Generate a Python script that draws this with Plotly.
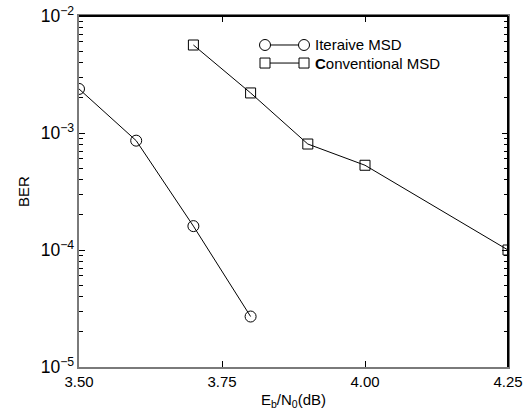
import plotly.graph_objects as go

ebn0_iter = [3.5, 3.6, 3.7, 3.8]
ber_iter = [2.38e-3, 8.6e-4, 1.6e-4, 2.7e-5]
ebn0_conv = [3.7, 3.8, 3.9, 4.0, 4.25]
ber_conv = [5.65e-3, 2.2e-3, 8.05e-4, 5.3e-4, 1.0e-4]

x_ticks = [3.5, 3.75, 4.0, 4.25]
x_labels = ["3.50", "3.75", "4.00", "4.25"]
legend_names = ["Iteraive MSD", "<b>C</b>onventional MSD"]

fig = go.Figure()
fig.add_trace(go.Scatter(x=ebn0_iter, y=ber_iter, mode="lines+markers", name=legend_names[0],
                         line=dict(color="black", width=1), showlegend=False,
                         marker=dict(symbol="circle-open", size=11, color="black", line=dict(width=1))))
fig.add_trace(go.Scatter(x=ebn0_conv, y=ber_conv, mode="lines+markers", name=legend_names[1],
                         line=dict(color="black", width=1), showlegend=False,
                         marker=dict(symbol="square-open", size=10, color="black", line=dict(width=1))))

# manual legend (paper coordinates)
x0, x1, xt = 0.4336, 0.5245, 0.5455
rows = [0.9174, 0.866]
shapes = []
for i, yr in enumerate(rows):
    shapes.append(dict(type="line", xref="paper", yref="paper", x0=x0, x1=x1, y0=yr, y1=yr,
                       line=dict(color="black", width=1)))
    for xc in (x0, x1):
        s = 5.5 if i == 0 else 5
        shapes.append(dict(type="circle" if i == 0 else "rect", xref="paper", yref="paper",
                           xsizemode="pixel", ysizemode="pixel", xanchor=xc, yanchor=yr,
                           x0=-s, x1=s, y0=-s, y1=s,
                           line=dict(color="black", width=1), fillcolor="white"))
# black top/right frame lines
shapes.append(dict(type="line", xref="paper", yref="paper", x0=0, x1=1, y0=1, y1=1,
                   line=dict(color="black", width=2)))
shapes.append(dict(type="line", xref="paper", yref="paper", x0=1, x1=1, y0=0, y1=1,
                   line=dict(color="black", width=2)))
annotations = [dict(text=legend_names[i], xref="paper", yref="paper", x=xt, y=yr,
                    xanchor="left", yanchor="middle", showarrow=False,
                    font=dict(size=15, color="black"))
               for i, yr in enumerate(rows)]

axis_common = dict(showline=True, linecolor="#7a7a7a", linewidth=2, mirror="ticks",
                   ticks="inside", tickcolor="black", showgrid=False, zeroline=False,
                   automargin=False)

fig.update_layout(
    width=526, height=413,
    margin=dict(l=79, r=18, t=16, b=46),
    paper_bgcolor="white", plot_bgcolor="white",
    font=dict(family="Liberation Sans, Arial", size=15, color="black"),
    showlegend=False,
    shapes=shapes, annotations=annotations,
    xaxis=dict(range=[3.5, 4.25], tickvals=x_ticks, ticktext=x_labels, ticklen=6,
               tickfont=dict(size=15, color="black"),
               title=dict(text="E<sub>b</sub>/N<sub>0</sub>(dB)", standoff=5, font=dict(size=15)),
               **axis_common),
    yaxis=dict(type="log", range=[-5, -2], dtick=1, exponentformat="power", showexponent="all",
               ticklen=6, tickfont=dict(size=14, color="black"),
               minor=dict(ticks="inside", ticklen=4, tickcolor="black", dtick="D1", showgrid=False),
               title=dict(text="BER", standoff=8, font=dict(size=15)),
               **axis_common),
)

fig.write_html("out.html", config={"displayModeBar": False},
               post_script="document.body.style.margin='0';document.body.style.overflow='hidden';")
